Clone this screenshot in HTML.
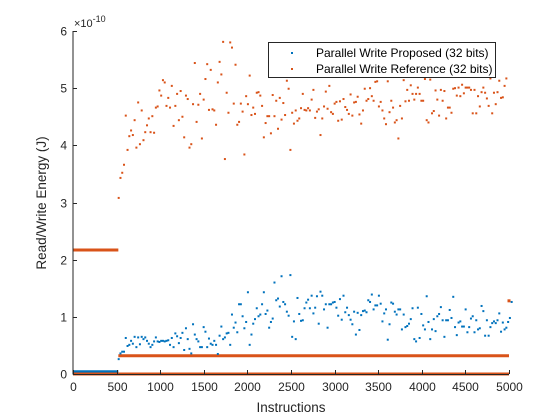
<!DOCTYPE html>
<html><head><meta charset="utf-8"><style>
html,body{margin:0;padding:0;background:#fff;}
svg{display:block;font-family:"Liberation Sans",Arial,sans-serif;}
</style></head><body>
<svg id="chart" width="560" height="420" xmlns="http://www.w3.org/2000/svg"></svg>
<script>
const xTicks=[0,500,1000,1500,2000,2500,3000,3500,4000,4500,5000];
const yTicks=[0,1,2,3,4,5,6];
const seriesNames=["Parallel Write Proposed (32 bits)","Parallel Write Reference (32 bits)"];
const scatterXStart=524;
const scatterXStep=20.3;
const proposedValues=[0.26,0.36,0.39,0.39,0.63,0.49,0.51,0.58,0.53,0.65,0.47,0.64,0.52,0.65,0.61,0.64,0.58,0.53,0.47,0.51,0.57,0.64,0.57,0.56,0.58,0.58,0.57,0.58,0.59,0.51,0.63,0.47,0.71,0.66,0.54,0.63,0.72,0.42,0.80,0.61,0.44,0.36,0.87,0.69,0.61,0.57,0.47,0.47,0.82,0.74,0.47,0.62,0.53,0.51,0.58,0.51,0.35,0.67,0.83,0.61,0.64,0.71,0.72,0.51,1.04,0.81,0.90,0.73,1.22,1.22,1.01,0.80,0.91,1.43,0.51,0.69,0.88,0.96,1.15,1.01,1.04,1.22,1.43,1.05,1.11,0.81,0.91,0.97,1.60,1.29,1.32,1.18,1.71,1.26,1.22,1.09,1.02,1.73,0.65,
0.92,0.61,1.33,1.05,0.93,0.94,1.15,1.25,1.30,1.15,1.37,1.06,1.16,1.36,0.88,1.44,1.37,1.13,1.22,0.81,1.22,1.22,1.25,1.26,1.16,1.02,1.31,0.95,1.37,1.08,1.16,1.03,0.95,0.87,1.09,0.69,1.07,0.77,1.03,1.10,1.11,1.08,1.29,1.26,1.39,1.13,1.20,1.20,1.37,1.23,0.92,1.06,1.13,0.60,0.87,1.25,1.23,1.09,1.04,1.13,1.13,0.78,1.04,0.82,0.84,0.88,0.96,1.15,0.61,0.57,1.16,0.63,1.05,0.85,0.78,1.36,0.91,0.61,0.78,0.96,0.75,1.01,1.05,1.17,0.94,0.65,0.94,0.94,1.12,0.98,1.35,0.82,0.68,0.90,0.92,0.83,0.83,1.13,0.73,0.82,0.97,1.01,0.73,0.94,0.78,0.80,1.19,1.10,0.67,0.94,0.67,0.82,0.89,0.92,0.89,0.94,1.06,0.74,0.90,0.78,0.81,0.91,0.98,1.26];
const referenceValues=[3.08,3.43,3.52,3.66,4.52,3.92,4.16,4.26,4.18,4.44,3.96,4.75,4.02,4.61,4.09,4.23,4.35,4.47,4.23,4.51,4.22,4.66,4.68,4.96,4.87,5.14,5.10,4.69,4.83,4.66,5.04,4.34,4.69,4.90,4.44,4.95,4.50,4.14,4.87,4.81,3.96,4.02,4.72,5.44,4.41,4.71,4.90,4.12,4.80,5.16,5.42,4.62,5.32,4.63,4.61,4.36,5.10,5.46,5.24,5.81,3.76,4.92,4.57,5.80,5.71,4.73,5.41,4.36,4.41,4.73,4.59,3.84,4.86,4.72,5.22,4.53,4.66,4.55,4.92,4.93,4.87,4.69,4.14,4.39,4.51,4.51,4.21,4.88,4.51,4.78,4.29,4.83,4.45,4.74,4.53,5.13,4.99,3.92,
4.57,4.38,4.61,4.43,4.47,4.65,4.90,4.62,4.61,4.65,4.61,4.80,4.97,4.48,4.59,4.63,4.18,4.47,4.68,4.94,4.64,5.04,4.58,4.55,4.73,4.76,4.43,4.77,4.45,4.81,4.67,4.62,4.55,4.89,4.52,4.75,4.76,4.85,4.54,4.38,4.61,4.99,4.78,4.81,5.00,4.86,4.78,5.11,5.12,4.68,4.76,4.61,4.47,4.37,5.12,4.58,4.78,4.66,4.40,4.44,4.12,4.69,4.47,5.14,4.77,4.97,4.78,5.05,4.90,4.80,4.90,5.01,4.90,4.78,4.78,5.16,4.44,4.40,5.15,4.56,4.60,4.96,4.80,4.52,4.97,4.78,4.95,4.47,4.66,4.66,4.57,4.99,5.00,4.87,5.01,4.86,5.06,4.91,5.01,5.01,5.01,4.97,4.56,4.97,4.56,4.86,4.68,4.93,5.01,4.92,4.82,4.69,5.17,4.56,4.92,4.72,4.93,5.13,4.83,4.84,5.04,5.17];
// constant segments: [startX, endX, value]
const proposedFlat=[[0,520,0.04]];
const referenceFlat=[[0,520,2.17],[520,5000,0.32],[0,5000,0.0]];
const referenceExtraX=[5000];
const referenceExtraY=[1.28];

const NS="http://www.w3.org/2000/svg";
const svg=document.getElementById('chart');
const L=73,R=509,T=31,B=374;
const xS=v=>L+(v-0)/5000*(R-L);
const yS=v=>B-(v-0)/6*(B-T);
function mk(tag,attrs,parent){const e=document.createElementNS(NS,tag);for(const k in attrs)e.setAttribute(k,attrs[k]);(parent||svg).appendChild(e);return e;}
const C1="#0072BD",C2="#D95319",AX="#262626";

const plot=mk('g',{});



function flat(segs,color,name){
  segs.forEach(s=>{
    const l=mk('line',{x1:xS(s[0]),x2:xS(s[1]),y1:yS(s[2]),y2:yS(s[2]),stroke:color,'stroke-width':3},plot);
    
    
  });
}
flat(proposedFlat,C1,'proposed-flat-segment');
flat(referenceFlat,C2,'reference-flat-segment');

function scatter(vals,color,name){
  vals.forEach((v,i)=>{
    const x=scatterXStart+i*scatterXStep;
    const r=mk('rect',{x:xS(x)-1,y:yS(v)-1,width:2,height:2,fill:color},plot);
    
    
  });
}
scatter(proposedValues,C1,'proposed-point');
scatter(referenceValues,C2,'reference-point');
referenceExtraX.forEach((x,i)=>{
  const r=mk('rect',{x:xS(x)-1.5,y:yS(referenceExtraY[i])-1.5,width:3,height:3,fill:C2},plot);
  
  
});

// axes
const ax=mk('g',{stroke:AX,'stroke-width':1});


mk('line',{x1:L,x2:L,y1:T,y2:B+0.5},ax);
mk('line',{x1:L,x2:R,y1:B+0.5,y2:B+0.5},ax);
xTicks.forEach(t=>{
  const x=Math.round(xS(t))+0.5;
  mk('line',{x1:x,x2:x,y1:B,y2:B-4},ax);
  const tx=mk('text',{x:x,y:B+17,'text-anchor':'middle','font-size':12,fill:AX,stroke:'none'});
  tx.textContent=t;
  
  
});
yTicks.forEach(t=>{
  const y=Math.round(yS(t))+0.5;
  mk('line',{x1:L,x2:L+4,y1:y,y2:y},ax);
  const tx=mk('text',{x:L-6,y:y+4,'text-anchor':'end','font-size':12,fill:AX,stroke:'none'});
  tx.textContent=t;
  
  
});
const ex=mk('text',{x:L+1,y:27,'font-size':11,fill:AX});
ex.innerHTML='×10<tspan dy="-5" font-size="9">-10</tspan>';


const xl=mk('text',{x:291,y:412,'text-anchor':'middle','font-size':13.5,fill:AX});
xl.textContent='Instructions';


const yl=mk('text',{x:0,y:0,'text-anchor':'middle','font-size':13.5,fill:AX,transform:'translate(46,203) rotate(-90)'});
yl.textContent='Read/Write Energy (J)';



// legend
const lg=mk('g',{});


mk('rect',{x:268.5,y:42.5,width:227,height:35,fill:'#fff',stroke:AX,'stroke-width':1},lg);
[C1,C2].forEach((c,i)=>{
  const y=53+i*16;
  const m=mk('rect',{x:291,y:y-1,width:2,height:2,fill:c},lg);
  
  
  const t=mk('text',{x:316,y:y+4,'font-size':12,fill:'#000'},lg);
  t.textContent=seriesNames[i];
  
  
});
</script>
</body></html>
